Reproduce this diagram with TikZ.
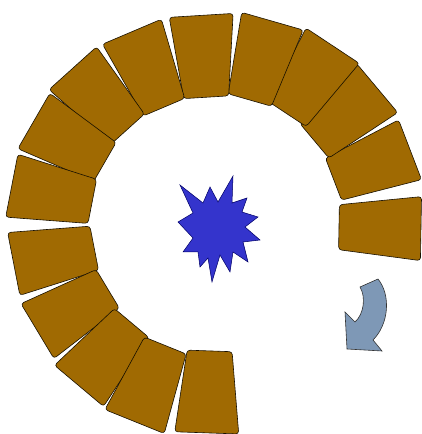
\documentclass[tikz,border=0pt]{standalone}
\usepackage{xcolor}
\usepackage{tikz}
\usetikzlibrary{calc}

\definecolor{brickbrown}{RGB}{160,106,2}
\definecolor{starblue}{RGB}{52,52,204}
\definecolor{arrowgrey}{RGB}{126,152,182}

\tikzset{
	brick/.style={fill=brickbrown, draw=black!85!brickbrown, line width=0.6pt, rounded corners=3pt},
	burst/.style={fill=starblue, draw=blue!40!black, line width=0.5pt},
	turnarrow/.style={fill=arrowgrey, draw=black!80, line width=0.6pt, line join=miter}
}

\begin{document}
\begin{tikzpicture}[x=1pt, y=1pt]
		\useasboundingbox (0,0) rectangle (422,434);
		\coordinate (O) at (214,209);
		% bricks laid round the centre (angle/outward push)
		\foreach \a/\d in {-1/0, 21/3, 40/6, 56.5/8, 74/5, 93.5/3, 113/3, 132/4,
			150/1, 169/-1, 191/-3, 211/-1, 230/3, 248/5, 268/1} {
			\draw[brick, shift={(O)}, rotate=\a, xshift=\d]
				(125,-22.5) -- (207,-32) -- (207,32) -- (125,22.5) -- cycle;
		}
		% star in the middle
		\draw[burst] (180,249) -- (203,231) -- (210,247) -- (218,232) -- (233,258)
			-- (232,231) -- (247,236) -- (242,222) -- (258,217) -- (245,207)
			-- (260,194) -- (243,192) -- (248,172) -- (233,182) -- (230,162)
			-- (220,179) -- (212,152) -- (208,176) -- (200,167) -- (198,182)
			-- (183,182) -- (193,196) -- (178,212) -- (193,221) -- cycle;
		% turning arrow
		\coordinate (T1) at (360,147);
		\coordinate (T2) at (378,155);
		\coordinate (H1) at (373,94);
		\coordinate (H2) at (382,83);
		\coordinate (H3) at (347,85);
		\coordinate (H4) at (345,122);
		\coordinate (H5) at (355,112);
		\draw[turnarrow] (T1) -- (T2) .. controls (391,139) and (389,110) .. (H1)
			-- (H2) -- (H3) -- (H4) -- (H5) .. controls (364,120) and (366,137) .. (T1) -- cycle;
	\end{tikzpicture}
\end{document}
